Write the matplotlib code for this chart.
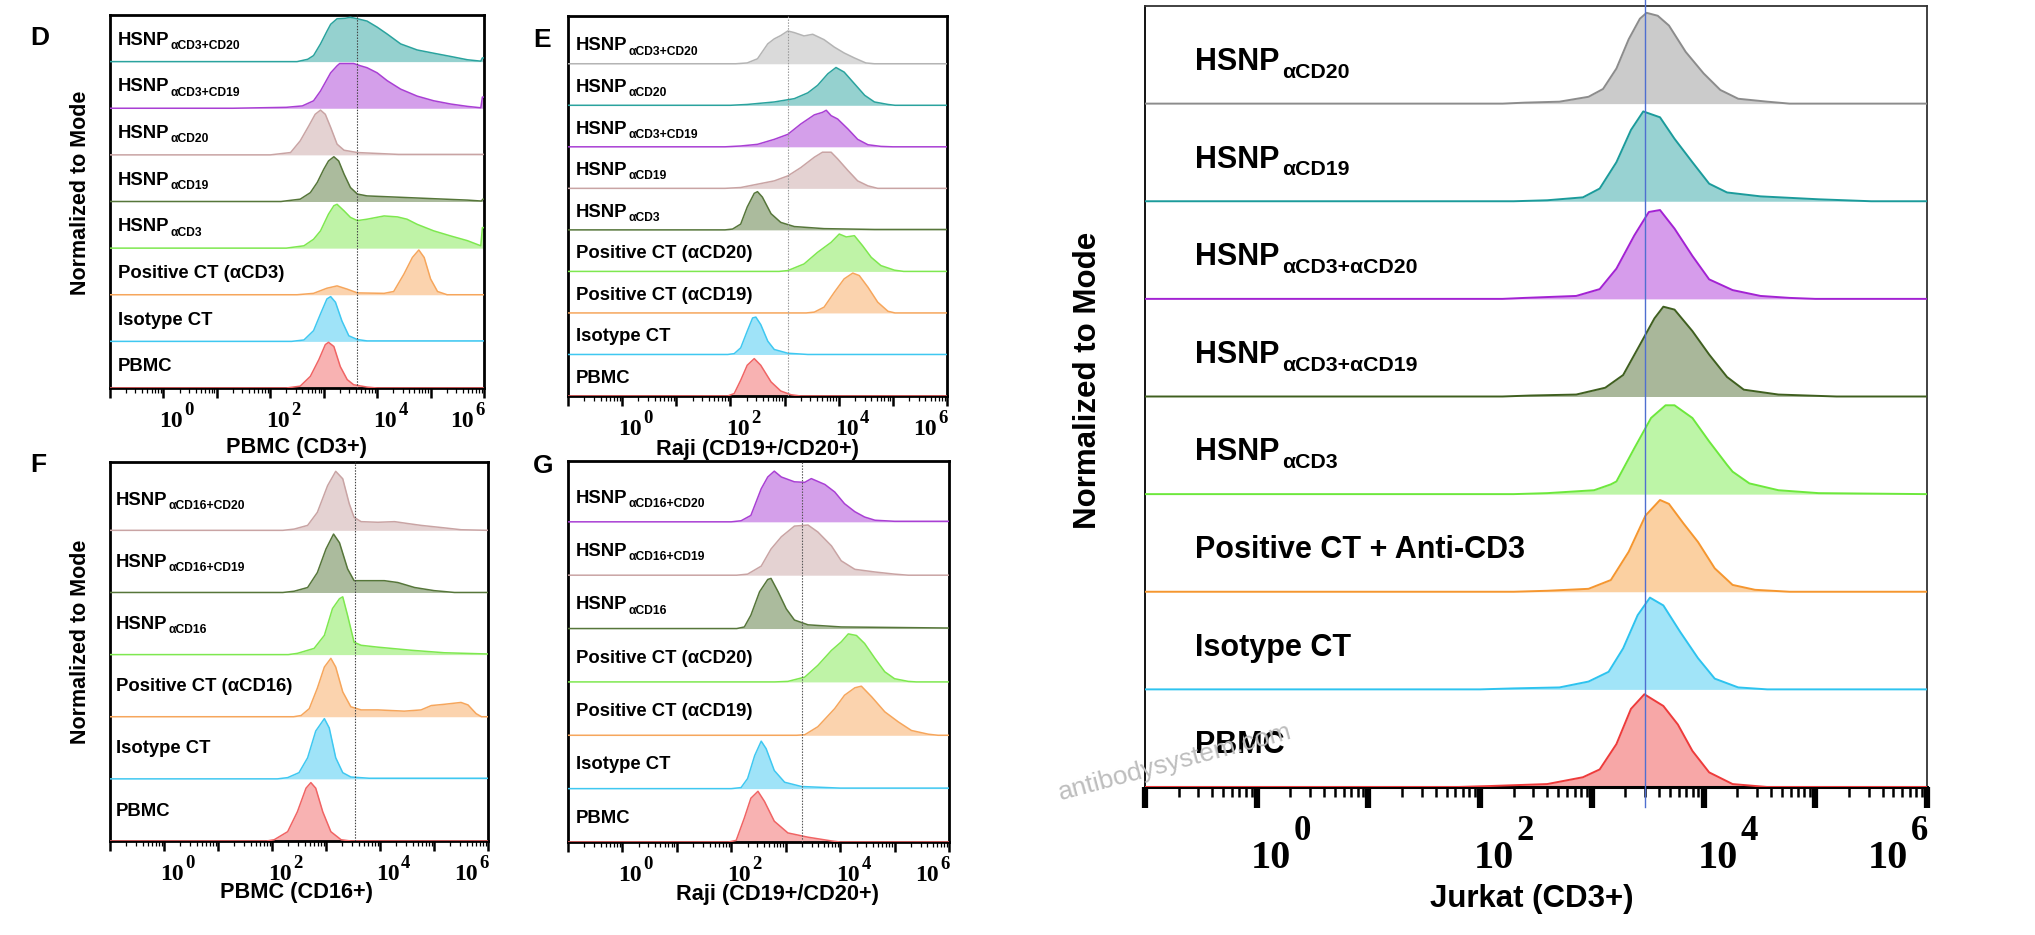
import numpy as np
import matplotlib
matplotlib.use('Agg')
import matplotlib.pyplot as plt
from matplotlib.ticker import LogLocator, NullFormatter
from matplotlib import colors as mcolors

SANS = 'Liberation Sans'
SERIF = 'Liberation Serif'

# ---------------- colours ----------------
TEAL = '#2aa39e'; PURPLE = '#a93fd4'; ROSY = '#c9a4a4'; OLIVE = '#56763a'
LGREEN = '#7ee84f'; ORANGE = '#f6a65c'; CYAN = '#3fc8f1'; RED = '#f06464'; GRAY = '#b4b4b4'

# ---------------- data (x = log10 intensity, y = fraction of mode) ----------------
D_labels = [("HSNP", "αCD3+CD20"), ("HSNP", "αCD3+CD19"), ("HSNP", "αCD20"), ("HSNP", "αCD19"),
            ("HSNP", "αCD3"), ("Positive CT (αCD3)", ""), ("Isotype CT", ""), ("PBMC", "")]
D_colors = [TEAL, PURPLE, ROSY, OLIVE, LGREEN, ORANGE, CYAN, RED]
D_curves = [
    [(2.5,0),(2.7,0.05),(2.81,0.13),(2.94,0.38),(3.06,0.65),(3.13,0.8),(3.25,0.92),(3.4,0.93),(3.5,0.95),(3.63,0.92),(3.81,0.87),(4.0,0.74),(4.19,0.59),(4.44,0.38),(4.75,0.25),(5.06,0.18),(5.38,0.11),(5.69,0.04),(5.94,0.01),(5.97,0.08),(6.0,0.08)],
    [(1.3,0),(2.3,0.02),(2.6,0.05),(2.81,0.16),(2.94,0.37),(3.13,0.76),(3.25,0.91),(3.3,0.96),(3.56,0.96),(3.69,0.91),(3.81,0.87),(4.0,0.76),(4.19,0.59),(4.44,0.41),(4.75,0.26),(5.06,0.16),(5.38,0.09),(5.69,0.04),(5.94,0.01),(5.97,0.24),(6.0,0.24)],
    [(2.0,0),(2.38,0.05),(2.56,0.3),(2.72,0.62),(2.84,0.87),(2.94,0.96),(3.03,0.87),(3.13,0.59),(3.25,0.23),(3.38,0.1),(3.63,0.05),(4.4,0.01),(6.0,0.01)],
    [(2.2,0),(2.56,0.05),(2.75,0.19),(2.88,0.41),(3.0,0.69),(3.09,0.87),(3.19,0.96),(3.28,0.87),(3.38,0.59),(3.5,0.3),(3.63,0.16),(3.81,0.12),(4.44,0.09),(5.06,0.06),(5.69,0.03),(5.95,0.01),(5.98,0.05),(6.0,0.05)],
    [(2.3,0),(2.63,0.05),(2.81,0.19),(2.94,0.37),(3.09,0.73),(3.19,0.91),(3.25,0.94),(3.38,0.8),(3.5,0.66),(3.63,0.59),(3.81,0.62),(4.13,0.69),(4.38,0.67),(4.56,0.62),(4.75,0.51),(5.06,0.37),(5.38,0.26),(5.69,0.16),(5.94,0.05),(5.97,0.44),(6.0,0.44)],
    [(2.5,0),(2.81,0.03),(3.06,0.14),(3.25,0.19),(3.44,0.12),(3.63,0.04),(4.13,0.03),(4.31,0.07),(4.5,0.44),(4.66,0.8),(4.78,0.96),(4.88,0.8),(5.0,0.34),(5.13,0.07),(5.31,0)],
    [(2.4,0),(2.63,0.03),(2.81,0.23),(2.94,0.59),(3.06,0.91),(3.13,0.96),(3.22,0.84),(3.34,0.44),(3.47,0.12),(3.63,0.04),(3.81,0.01),(6.0,0.01)],
    [(2.3,0),(2.56,0.04),(2.75,0.25),(2.91,0.61),(3.03,0.93),(3.09,0.98),(3.19,0.89),(3.31,0.46),(3.44,0.18),(3.56,0.07),(3.81,0.02),(4.0,0)],
]
D_gate = 3.63

E_labels = [("HSNP", "αCD3+CD20"), ("HSNP", "αCD20"), ("HSNP", "αCD3+CD19"), ("HSNP", "αCD19"),
            ("HSNP", "αCD3"), ("Positive CT (αCD20)", ""), ("Positive CT (αCD19)", ""),
            ("Isotype CT", ""), ("PBMC", "")]
E_colors = [GRAY, TEAL, PURPLE, ROSY, OLIVE, LGREEN, ORANGE, CYAN, RED]
E_curves = [
    [(2.1,0),(2.31,0.02),(2.5,0.12),(2.69,0.48),(2.81,0.6),(2.93,0.68),(3.06,0.79),(3.18,0.75),(3.36,0.67),(3.52,0.71),(3.73,0.58),(3.92,0.4),(4.1,0.26),(4.29,0.14),(4.5,0.02),(4.66,0)],
    [(2.0,0),(2.31,0.02),(2.81,0.08),(3.18,0.16),(3.43,0.3),(3.61,0.48),(3.8,0.76),(3.95,0.91),(4.1,0.8),(4.29,0.52),(4.48,0.24),(4.66,0.08),(4.91,0.02),(5.04,0)],
    [(1.9,0),(2.19,0.02),(2.5,0.06),(2.81,0.18),(3.06,0.3),(3.3,0.55),(3.55,0.77),(3.7,0.83),(3.77,0.88),(3.86,0.75),(3.98,0.67),(4.17,0.43),(4.35,0.18),(4.54,0.05),(4.78,0.01),(5.0,0)],
    [(1.9,0),(2.19,0.02),(2.5,0.1),(2.81,0.18),(3.06,0.3),(3.3,0.5),(3.55,0.75),(3.7,0.87),(3.86,0.87),(3.98,0.71),(4.17,0.43),(4.35,0.18),(4.54,0.06),(4.72,0)],
    [(1.9,0),(2.04,0.02),(2.19,0.14),(2.31,0.55),(2.44,0.88),(2.5,0.92),(2.59,0.79),(2.75,0.39),(2.93,0.18),(3.18,0.08),(3.73,0.03),(4.66,0.01),(6.0,0.01)],
    [(2.9,0),(3.06,0.02),(3.36,0.18),(3.61,0.46),(3.86,0.7),(4.01,0.9),(4.14,0.83),(4.29,0.86),(4.44,0.62),(4.6,0.34),(4.78,0.14),(5.03,0.03),(5.2,0)],
    [(3.4,0),(3.55,0.02),(3.73,0.14),(3.92,0.5),(4.1,0.82),(4.26,0.96),(4.38,0.9),(4.54,0.62),(4.72,0.26),(4.91,0.04),(5.04,0)],
    [(1.95,0),(2.07,0.02),(2.19,0.16),(2.31,0.56),(2.41,0.88),(2.47,0.9),(2.56,0.72),(2.69,0.32),(2.81,0.12),(3.06,0.03),(3.43,0)],
    [(1.95,0),(2.07,0.06),(2.19,0.38),(2.31,0.74),(2.44,0.9),(2.56,0.74),(2.75,0.34),(2.93,0.12),(3.12,0.03),(3.3,0)],
]
E_gate = 3.06

F_labels = [("HSNP", "αCD16+CD20"), ("HSNP", "αCD16+CD19"), ("HSNP", "αCD16"),
            ("Positive CT (αCD16)", ""), ("Isotype CT", ""), ("PBMC", "")]
F_colors = [ROSY, OLIVE, LGREEN, ORANGE, CYAN, RED]
F_curves = [
    [(2.2,0),(2.41,0.02),(2.66,0.08),(2.84,0.29),(3.03,0.72),(3.18,0.95),(3.31,0.83),(3.43,0.43),(3.52,0.21),(3.65,0.14),(3.96,0.13),(4.27,0.14),(4.51,0.11),(4.76,0.08),(5.19,0.04),(5.5,0.01),(6.0,0)],
    [(2.2,0),(2.41,0.02),(2.66,0.08),(2.84,0.32),(3.0,0.7),(3.14,0.94),(3.25,0.8),(3.4,0.38),(3.52,0.19),(3.77,0.19),(4.08,0.19),(4.33,0.16),(4.64,0.08),(5.0,0.03),(5.38,0)],
    [(2.3,0),(2.47,0.02),(2.78,0.1),(2.97,0.31),(3.12,0.74),(3.25,0.9),(3.31,0.93),(3.4,0.63),(3.52,0.2),(3.65,0.15),(3.96,0.12),(4.58,0.07),(5.19,0.03),(6.0,0.01)],
    [(2.4,0),(2.54,0.02),(2.69,0.13),(2.84,0.46),(2.97,0.8),(3.09,0.94),(3.18,0.8),(3.31,0.4),(3.46,0.16),(3.65,0.11),(3.96,0.11),(4.45,0.09),(4.76,0.11),(4.95,0.18),(5.19,0.2),(5.5,0.23),(5.63,0.19),(5.78,0.05),(5.88,0)],
    [(2.1,0),(2.29,0.02),(2.5,0.1),(2.66,0.34),(2.81,0.77),(2.97,0.97),(3.06,0.82),(3.18,0.34),(3.31,0.1),(3.46,0.03),(3.8,0.01),(6.0,0.01)],
    [(1.9,0),(2.04,0.02),(2.29,0.15),(2.47,0.47),(2.63,0.85),(2.72,0.94),(2.81,0.85),(2.94,0.47),(3.09,0.15),(3.28,0.02),(3.46,0)],
]
F_gate = 3.54

G_labels = [("HSNP", "αCD16+CD20"), ("HSNP", "αCD16+CD19"), ("HSNP", "αCD16"),
            ("Positive CT (αCD20)", ""), ("Positive CT (αCD19)", ""), ("Isotype CT", ""), ("PBMC", "")]
G_colors = [PURPLE, ROSY, OLIVE, LGREEN, ORANGE, CYAN, RED]
G_curves = [
    [(2.0,0),(2.18,0.02),(2.36,0.12),(2.55,0.62),(2.67,0.84),(2.79,0.95),(2.92,0.84),(3.16,0.75),(3.35,0.74),(3.47,0.81),(3.72,0.7),(3.9,0.56),(4.08,0.34),(4.27,0.19),(4.45,0.09),(4.64,0.03),(5.0,0.01),(6.0,0.01)],
    [(2.1,0),(2.3,0.02),(2.55,0.17),(2.73,0.49),(2.92,0.72),(3.16,0.92),(3.41,0.94),(3.59,0.81),(3.84,0.55),(4.02,0.27),(4.27,0.11),(4.64,0.06),(5.0,0.02),(5.25,0)],
    [(2.1,0),(2.24,0.03),(2.36,0.25),(2.52,0.69),(2.67,0.92),(2.73,0.94),(2.86,0.69),(3.01,0.37),(3.16,0.16),(3.41,0.07),(4.02,0.03),(6.0,0.01)],
    [(2.8,0),(3.04,0.01),(3.35,0.09),(3.59,0.31),(3.84,0.59),(4.02,0.75),(4.15,0.9),(4.3,0.87),(4.45,0.72),(4.64,0.44),(4.82,0.19),(5.0,0.06),(5.25,0.01),(5.4,0)],
    [(3.2,0),(3.35,0.01),(3.59,0.16),(3.9,0.5),(4.08,0.75),(4.27,0.89),(4.39,0.92),(4.58,0.72),(4.82,0.44),(5.07,0.25),(5.31,0.09),(5.62,0.02),(5.8,0)],
    [(2.0,0),(2.18,0.02),(2.3,0.19),(2.43,0.62),(2.55,0.89),(2.64,0.75),(2.79,0.34),(2.98,0.12),(3.29,0.04),(4.0,0.01),(6.0,0.01)],
    [(1.95,0),(2.09,0.03),(2.24,0.45),(2.36,0.82),(2.49,0.95),(2.61,0.76),(2.79,0.39),(3.04,0.17),(3.41,0.09),(3.84,0.02),(4.0,0)],
]
G_gate = 3.30

R_labels = [("HSNP", "αCD20"), ("HSNP", "αCD19"), ("HSNP", "αCD3+αCD20"), ("HSNP", "αCD3+αCD19"),
            ("HSNP", "αCD3"), ("Positive CT + Anti-CD3", ""), ("Isotype CT", ""), ("PBMC", "")]
R_colors = ['#8c8c8c', '#1b9b9b', '#a322d3', '#3f5f1f', '#6de83c', '#f5962f', '#2dc3ef', '#ee3b3b']
R_curves = [
    [(2.2,0),(2.4,0.01),(2.71,0.02),(2.97,0.07),(3.1,0.15),(3.22,0.36),(3.33,0.66),(3.43,0.87),(3.49,0.93),(3.59,0.9),(3.69,0.8),(3.84,0.53),(4.0,0.31),(4.15,0.14),(4.31,0.05),(4.57,0.02),(4.77,0)],
    [(2.3,0),(2.6,0.01),(2.92,0.04),(3.07,0.13),(3.22,0.4),(3.35,0.73),(3.46,0.92),(3.61,0.86),(3.74,0.64),(3.9,0.4),(4.05,0.18),(4.21,0.09),(4.51,0.05),(5.03,0.02),(5.5,0)],
    [(2.2,0),(2.4,0.01),(2.86,0.03),(3.07,0.1),(3.22,0.31),(3.38,0.65),(3.51,0.89),(3.61,0.91),(3.74,0.72),(3.9,0.44),(4.05,0.2),(4.26,0.09),(4.51,0.03),(4.77,0.01),(5.0,0)],
    [(2.2,0),(2.45,0.01),(2.86,0.02),(3.12,0.09),(3.28,0.22),(3.43,0.53),(3.56,0.8),(3.64,0.92),(3.74,0.89),(3.9,0.67),(4.05,0.43),(4.21,0.2),(4.36,0.07),(4.67,0.02),(5.19,0)],
    [(2.3,0),(2.6,0.01),(3.02,0.04),(3.17,0.1),(3.22,0.13),(3.38,0.47),(3.53,0.78),(3.66,0.91),(3.74,0.91),(3.9,0.78),(4.05,0.54),(4.21,0.3),(4.26,0.23),(4.41,0.11),(4.67,0.04),(5.03,0.01),(6.0,0)],
    [(2.3,0),(2.6,0.01),(2.97,0.03),(3.17,0.12),(3.33,0.41),(3.48,0.78),(3.61,0.94),(3.69,0.9),(3.82,0.7),(3.95,0.51),(4.1,0.24),(4.26,0.07),(4.46,0.02),(4.77,0)],
    [(2.0,0),(2.3,0.01),(2.71,0.02),(2.97,0.08),(3.15,0.18),(3.28,0.42),(3.41,0.76),(3.52,0.94),(3.64,0.86),(3.79,0.59),(3.95,0.32),(4.1,0.11),(4.31,0.02),(4.57,0)],
    [(1.8,0),(2.09,0.01),(2.6,0.03),(2.92,0.1),(3.07,0.18),(3.22,0.44),(3.35,0.8),(3.47,0.95),(3.64,0.83),(3.77,0.64),(3.9,0.37),(4.05,0.15),(4.26,0.03),(4.57,0)],
]
R_gate = 3.48

LOG_MIN, LOG_MAX = -1, 6
LABEL_DECADES = [0, 2, 4, 6]

# ---------------- figure ----------------
W, H = 2035, 935
fig = plt.figure(figsize=(W / 100, H / 100), dpi=100)


def rect(l, r, t, b):
    return [l / W, 1 - b / H, (r - l) / W, (b - t) / H]


def pt(px):
    return px * 0.72


def mix(c, a):
    rgb = np.array(mcolors.to_rgb(c))
    return tuple(a * rgb + (1 - a) * 1.0)


def decade_labels(ax, s10, sexp, base_drop, exp_drop, shift, gap):
    xt = ax.get_xaxis_transform()
    for k in LABEL_DECADES:
        x = 10.0 ** k
        kw = dict(fontsize=s10, family=SERIF, fontweight='bold', va='baseline', annotation_clip=False)
        kwe = dict(fontsize=sexp, family=SERIF, fontweight='bold', va='baseline', annotation_clip=False)
        if k != LABEL_DECADES[-1]:
            t = ax.annotate('10', xy=(x, 0), xycoords=xt, xytext=(-pt(shift), -pt(base_drop)),
                            textcoords='offset points', ha='left', **kw)
            ax.annotate(str(k), xy=(1, 0), xycoords=(t, xt), xytext=(pt(gap), -pt(exp_drop)),
                        textcoords='offset points', ha='left', **kwe)
        else:
            e = ax.annotate(str(k), xy=(x, 0), xycoords=xt, xytext=(pt(1), -pt(exp_drop)),
                            textcoords='offset points', ha='right', **kwe)
            ax.annotate('10', xy=(0, 0), xycoords=(e, xt), xytext=(-pt(gap), -pt(base_drop)),
                        textcoords='offset points', ha='right', **kw)


def panel(box, labels, colors, curves, ytop, lab_dx, lab_frac, msize, ssize, sdrop, sgap,
          lw, fa, spine_lw, tick_major, tick_minor):
    ax = fig.add_axes(rect(*box))
    n = len(labels)
    ax.set_xscale('log')
    ax.set_xlim(10.0 ** LOG_MIN, 10.0 ** LOG_MAX)
    ax.set_ylim(0, ytop)
    for i, (lab, col, cur) in enumerate(zip(labels, colors, curves)):
        base = n - 1 - i
        pts = list(cur)
        if pts[0][0] > LOG_MIN:
            pts = [(LOG_MIN, 0.0)] + pts
        if pts[-1][0] < LOG_MAX:
            pts = pts + [(LOG_MAX, pts[-1][1])]
        lx = np.array([p[0] for p in pts])
        ly = np.array([p[1] for p in pts])
        xs = 10.0 ** lx
        ys = base + ly
        ax.fill_between(xs, base, ys, color=mix(col, fa), lw=0, zorder=2)
        ax.plot(xs, ys, color=col, lw=lw, zorder=3, solid_joinstyle='round')
        yt = ax.get_yaxis_transform()
        t = ax.annotate(lab[0], xy=(0, base + lab_frac), xycoords=yt, xytext=(pt(lab_dx), 0),
                        textcoords='offset points', ha='left', va='baseline', fontsize=msize,
                        fontweight='bold', family=SANS, zorder=6)
        if lab[1]:
            ax.annotate(lab[1], xy=(1, base + lab_frac), xycoords=(t, yt), xytext=(pt(sgap), -pt(sdrop)),
                        textcoords='offset points', ha='left', va='baseline', fontsize=ssize,
                        fontweight='bold', family=SANS, zorder=6)
    ax.set_yticks([])
    ax.xaxis.set_major_locator(LogLocator(base=10, numticks=15))
    ax.xaxis.set_minor_locator(LogLocator(base=10, subs=np.arange(2, 10), numticks=15))
    ax.xaxis.set_major_formatter(NullFormatter())
    ax.xaxis.set_minor_formatter(NullFormatter())
    ax.tick_params(axis='x', which='major', direction='out', length=tick_major[0], width=tick_major[1], color='black')
    ax.tick_params(axis='x', which='minor', direction='out', length=tick_minor[0], width=tick_minor[1], color='black')
    for s in ax.spines.values():
        s.set_linewidth(spine_lw)
        s.set_color('black')
    return ax


small = dict(lab_frac=0.36, msize=13.3, ssize=8.7, sdrop=4.3, sgap=1.0, lw=1.1, fa=0.5,
             spine_lw=2.0, tick_major=(7, 1.8), tick_minor=(3.6, 0.9))

axD = panel((110, 484, 15, 388), D_labels, D_colors, D_curves, 8.0, 8, **small)
axE = panel((568, 947, 16, 396), E_labels, E_colors, E_curves, 9.15, 8, **{**small, 'lab_frac': 0.32})
axF = panel((110, 488, 462, 841), F_labels, F_colors, F_curves, 6.1, 6, **{**small, 'lab_frac': 0.41})
axG = panel((568, 949, 461, 842), G_labels, G_colors, G_curves, 7.14, 8, **small)

for ax, g, c in [(axD, D_gate, '#444444'), (axE, E_gate, '#9a9a9a'), (axF, F_gate, '#444444'), (axG, G_gate, '#555555')]:
    ax.axvline(10.0 ** g, color=c, lw=0.8, ls=(0, (1.3, 1.3)), zorder=5)
    decade_labels(ax, 17, 13.5, 39, 27, 4, 1.5)

axR = panel((1145, 1927, 6, 787), R_labels, R_colors, R_curves, 8.0, 50,
            lab_frac=0.345, msize=22, ssize=15.3, sdrop=7.7, sgap=3, lw=1.4, fa=0.45,
            spine_lw=1.3, tick_major=(15, 4.5), tick_minor=(7, 1.8))
axR.spines['bottom'].set_linewidth(2.2)
for s in ('top', 'right'):
    axR.spines[s].set_color('#333333')
decade_labels(axR, 29, 25, 80.7, 52.7, 6, 2.5)
axR.plot([10.0 ** R_gate] * 2, [-0.026, 1.008], transform=axR.get_xaxis_transform(),
         color='#4f6fd0', lw=1.0, clip_on=False, zorder=7)

# ---------------- axis titles ----------------
ytxt = dict(rotation=90, ha='center', va='center', fontweight='bold', family=SANS)
fig.text(81 / W, 1 - 192.5 / H, 'Normalized to Mode', fontsize=15.5, **ytxt)
fig.text(80 / W, 1 - 641.5 / H, 'Normalized to Mode', fontsize=15.5, **ytxt)
fig.text(1088 / W, 1 - 380 / H, 'Normalized to Mode', fontsize=22.5, **ytxt)

xtxt = dict(ha='center', va='baseline', fontweight='bold', family=SANS)
fig.text(296.5 / W, 1 - 453 / H, 'PBMC (CD3+)', fontsize=15.7, **xtxt)
fig.text(757 / W, 1 - 455 / H, 'Raji (CD19+/CD20+)', fontsize=15.7, **xtxt)
fig.text(296.7 / W, 1 - 898 / H, 'PBMC (CD16+)', fontsize=15.7, **xtxt)
fig.text(778 / W, 1 - 900 / H, 'Raji (CD19+/CD20+)', fontsize=15.7, **xtxt)
fig.text(1532 / W, 1 - 907 / H, 'Jurkat (CD3+)', fontsize=22.5, **xtxt)

# panel letters
ltxt = dict(ha='left', va='baseline', fontweight='bold', family=SANS, fontsize=19)
fig.text(30 / W, 1 - 45 / H, 'D', **ltxt)
fig.text(533 / W, 1 - 47 / H, 'E', **ltxt)
fig.text(30 / W, 1 - 472 / H, 'F', **ltxt)
fig.text(533 / W, 1 - 473 / H, 'G', **ltxt)

# watermark
fig.text(1175 / W, 1 - 762 / H, 'antibodysystem.com', rotation=15, ha='center', va='center',
         fontsize=19, color='#bdbdbd', family=SANS, zorder=20)

fig.savefig('out.png', dpi=100)
